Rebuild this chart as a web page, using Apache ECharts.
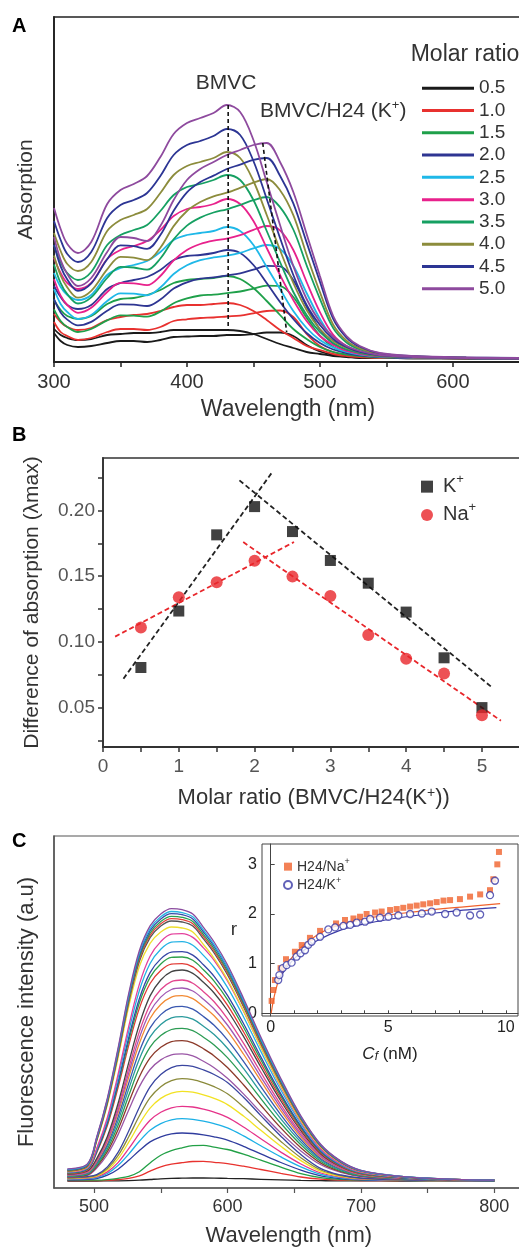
<!DOCTYPE html>
<html><head><meta charset="utf-8">
<script src="https://cdn.jsdelivr.net/npm/echarts/dist/echarts.min.js"></script>
<style>html,body{margin:0;padding:0;background:#fff}#c{width:519px;height:1248px}</style>
</head><body><div id="c"></div>
<script>
// ================= Panel A : absorption spectra =================
const A_WL = [300,305,310,318,328,340,350,360,370,380,390,400,410,420,430,440,450,460,470,480,490,500,510,520,530,545,570,610,650];
const RATIOS = ['0.5','1.0','1.5','2.0','2.5','3.0','3.5','4.0','4.5','5.0'];
const RATIO_COLORS = ['#1a1a1a','#e8312f','#1fa04a','#2e3592','#1fb8e8','#e8218c','#16a062','#8c8c3c','#2c3594','#8e4a9e'];
// BMVC alone (peak ~430 nm)
const BMVC_CURVES = [
 [33,27,24,22,23,27,28,29,29,30,32,32,32,32,32,31,28,23,18,14,10,8,6,5,4,4,3.6,3.5,3],
 [48,40,35,32,34,42,45,47,48,51,55,57,57,58,59,57,51,42,32,24,16,12,8,6,5,4,4,3.6,3.1],
 [62,52,46,43,46,58,63,64,67,72,79,82,83,84,86,83,74,61,47,33,23,15,10,7.5,6,4.6,4,3.7,3.2],
 [76,65,57,53,57,73,79,82,85,92,102,106,107,109,112,109,97,79,60,43,29,19,12.5,8.8,6.7,5,4.1,3.7,3.2],
 [89,75,67,62,67,87,94,97,101,110,122,127,129,131,135,131,117,95,73,51,34,22,14.5,10,7.3,5.3,4.3,3.8,3.3],
 [104,89,79,73,79,103,112,116,121,132,146,153,155,158,163,158,141,114,87,62,41,26,17,11,8,5.7,4.4,3.8,3.3],
 [117,100,89,82,90,117,127,132,137,151,167,175,178,182,187,182,162,131,100,70,47,30,19,12.5,9,6,4.6,3.9,3.4],
 [129,111,98,91,100,131,142,147,153,169,187,196,200,204,210,204,181,147,112,79,52,33,21,14,10,6.3,4.7,3.9,3.4],
 [141,122,108,100,110,144,157,162,169,186,207,217,221,226,233,227,201,163,124,87,57,37,23,15,10,6.7,4.9,4,3.5],
 [154,133,118,109,120,158,172,178,186,205,228,239,244,249,257,250,222,180,137,96,63,40,25,16,11,7,5,4,3.5]
];
// BMVC/H24 (K+) (peak ~457-475 nm)
const H24_CURVES = [
 [29,21,17,15,16,19,21,21,20,22,25,25.5,26,26,27,27,28,29.5,29.5,26,17,10.5,7,5.3,4.5,4,3.7,3.6,3.1],
 [40,30,26,22,24,30,33,33,32,35,41,42.7,44,44.5,45.5,46.4,48.7,51,51.5,45,28,16,10,7,5.4,4.4,4,3.7,3.2],
 [52.6,41,35,30,33,41.6,46.7,46.4,45.4,50.4,58.8,63.6,66.5,67.4,68.9,70.5,73.4,76.3,75.8,65,44.3,26.3,15,9.6,7.1,5.1,4.2,3.8,3.3],
 [62.8,49.6,42.4,36.6,40.1,51.3,57.7,57.3,56,62.5,73.4,79.6,83.3,84.6,86.5,88.7,92.4,96.1,95.6,81.8,55.5,32.5,18.2,11.3,8.1,5.5,4.4,3.9,3.4],
 [73,58,50,43,47,61,68.7,68.3,66.7,74.5,88,96.7,101.8,104.6,106.3,109.2,113.6,117,113,96.3,69,43.2,23.7,14.1,9.7,6.2,4.7,4.1,3.6],
 [82.7,66.3,57,49.2,54.2,70,79.2,78.7,76.8,86,101.7,112.1,118,121.4,123.4,126.8,132.1,136,131.6,112,80,49.9,27.1,15.9,10.7,6.6,4.9,4.2,3.7],
 [97.4,78.8,67.8,58.5,64.6,84,95.2,94.5,92.3,103.5,122.8,136.4,144.4,149.5,152.7,157,161.8,165,154.9,132.5,96.8,63.2,33.9,19.5,12.6,7.5,5.4,4.3,3.8],
 [106.6,86.5,74.6,64.3,71.1,92.6,105.1,104.4,101.9,114.3,135.9,151,160,165.7,169.3,174.1,179.4,183,171.8,146.9,107.2,69.9,37.3,21.3,13.6,8,5.6,4.4,3.9],
 [117.3,95.6,82.4,71.1,78.6,102.7,116.6,115.9,113.1,127,151.2,169.6,179.9,186.4,193,197.4,202.2,204,186.2,158.7,119.6,80.4,43.1,24.4,15.2,8.7,5.9,4.5,4],
 [125,102,88,76,84,110,125,124,121,136,162,182,193,200,207,212,217,219,200,170,128,86,46,26,16,9,6,4.5,4]
];
const BMVC_DASH = [[431,257],[431,32]];
const H24_DASH = [[457,219],[475,30]];
const A_X_TICKS = [300,350,400,450,500,550,600,650];
const A_X_LABELS = [300,400,500,600];

// ================= Panel B : difference of absorption =================
const B_RATIO = [0.5,1,1.5,2,2.5,3,3.5,4,4.5,5];
const B_K = [0.0805,0.1235,0.1815,0.203,0.184,0.162,0.1447,0.1227,0.0879,0.050];
const B_NA = [0.111,0.134,0.1454,0.1617,0.1497,0.135,0.1052,0.0871,0.076,0.0441];
const B_FIT_K_UP = [[0.27,0.072],[2.23,0.229]];
const B_FIT_K_DOWN = [[1.80,0.223],[5.12,0.066]];
const B_FIT_NA_UP = [[0.16,0.104],[2.52,0.176]];
const B_FIT_NA_DOWN = [[1.85,0.176],[5.25,0.040]];
const B_X_TICKS = [0,0.5,1,1.5,2,2.5,3,3.5,4,4.5,5,5.5];
const B_X_LABELS = [0,1,2,3,4,5];
const B_Y_TICKS = [0.025,0.05,0.075,0.1,0.125,0.15,0.175,0.2,0.225];
const B_Y_LABELS = [0.05,0.10,0.15,0.20];

// ================= Panel C : fluorescence spectra =================
const C_WL = [480,495,502,510,518,526,534,542,550,558,566,574,582,590,600,612,625,640,655,670,685,700,730,770,800];
const FL_COLORS = ['#222222','#e8322e','#22a046','#2f3c9e','#1cb0e6','#e5338a','#f2e223','#8a8a3a','#3a46a0','#9a56a6',
 '#8c3a2a','#2c9c54','#2a9a9c','#3a58b0','#f28a34','#a058b4','#e2468e','#444444','#e23a34','#2ea04a',
 '#3446a6','#22b2e4','#e4409c','#eede2e','#555555','#e4403a','#2aa050','#3a4aaa','#28b4e2','#8a4a9e'];
const FL_CURVES = [
 [7,7,7,7.1,7.2,7.4,7.8,8.5,9.2,9.6,9.8,10,10,9.9,9.6,9.3,8.7,8.1,7.6,7.3,7.1,7.1,7,7,7],
 [7.4,7.4,7.4,7.7,8.5,9.6,12.1,16.9,21.2,23.8,25.3,26.5,26.7,25.7,24.4,21.8,18.5,14.6,11,8.9,7.9,7.5,7.2,7.1,7],
 [7.8,7.8,7.8,8.4,9.7,11.7,16.3,25.1,32.8,37.4,40.2,42.3,42.7,40.9,38.5,33.9,27.8,20.8,14.4,10.4,8.6,7.9,7.4,7.1,7.1],
 [8.2,8.7,9.5,12.8,18.8,27.7,37.5,46.1,51.2,54.1,55,54.5,53.1,51.2,47.9,41.7,34.1,25.5,17.9,12.1,9.4,8.2,7.5,7.2,7.1],
 [8.7,9.3,10.4,14.5,22.4,33.9,46.7,57.7,64.4,68.1,69.4,68.7,66.9,64.4,60.1,52.1,42.2,31.1,21.2,13.7,10.2,8.6,7.7,7.3,7.1],
 [9.1,9.8,11.1,16.1,25.4,39.3,54.6,67.8,75.8,80.2,81.7,81,78.8,75.8,70.6,61,49.2,35.9,24,15,10.8,8.9,7.8,7.3,7.2],
 [9.5,10.4,11.9,17.9,29.1,45.8,64.1,79.9,89.6,94.9,96.7,95.8,93.2,89.6,83.4,71.9,57.7,41.7,27.4,16.6,11.6,9.3,8,7.4,7.2],
 [9.9,10.9,12.7,19.4,32.3,51.2,72.2,90.3,101.3,107.4,109.4,108.4,105.4,101.3,94.2,81,64.8,46.6,30.3,18,12.3,9.6,8.1,7.5,7.2],
 [10.3,11.5,13.4,21.1,35.6,57,80.8,101.2,113.5,120.4,122.7,121.6,118.1,113.5,105.5,90.7,72.4,51.8,33.4,19.4,13,10,8.2,7.5,7.2],
 [10.7,12.6,20,33.5,53.4,78.1,101.4,118.5,128.1,133.1,134.1,132.1,126.7,120.3,109.7,94.1,75.6,55.1,37.1,23.2,15.5,11.4,8.9,7.7,7.4],
 [11.1,13.2,21.4,36.3,58.3,85.5,111.3,130.1,140.7,146.3,147.4,145.2,139.2,132.1,120.5,103.2,82.8,60.1,40.3,24.9,16.3,11.8,9.1,7.8,7.4],
 [11.6,13.8,22.7,38.9,62.8,92.4,120.4,140.9,152.4,158.5,159.7,157.3,150.8,143.1,130.4,111.6,89.4,64.7,43.2,26.5,17.2,12.3,9.3,7.8,7.5],
 [12,14.4,24,41.4,67.1,99,129.1,151.1,163.6,170.1,171.4,168.8,161.8,153.5,139.8,119.6,95.7,69.2,46,28,18,12.7,9.5,7.9,7.5],
 [12.4,15,25.1,43.6,71,104.7,136.7,160.1,173.4,180.3,181.7,178.9,171.5,162.7,148.2,126.7,101.3,73.2,48.5,29.3,18.8,13.1,9.6,8,7.5],
 [12.8,15.5,26.3,45.9,74.9,110.8,144.7,169.5,183.5,190.9,192.3,189.4,181.5,172.2,156.8,134,107.1,77.2,51,30.7,19.5,13.5,9.8,8,7.55],
 [13.2,16.1,27.3,47.7,77.8,115.1,150.4,176.3,190.9,198.5,200,197,188.8,179,163,139.3,111.2,80.1,52.9,31.8,20,13.8,9.9,8.1,7.6],
 [13.6,16.6,28.3,49.5,80.8,119.7,156.4,183.3,198.5,206.4,208,204.8,196.3,186.2,169.4,144.8,115.6,83.2,54.8,32.9,20.6,14.1,10.1,8.1,7.6],
 [14,17.1,29.4,51.6,84.5,125.3,163.8,192.1,208,216.3,218,214.6,205.7,195,177.5,151.6,121,87,57.3,34.1,21.3,14.4,10.2,8.2,7.6],
 [14.5,18.1,35.2,62.4,100.4,142.6,179.9,204.5,217.5,223.9,224.4,221.1,211.9,200.9,182.9,156.2,124.6,89.6,58.8,35,21.8,14.7,10.3,8.3,7.6],
 [14.9,18.7,36.2,64.3,103.4,146.9,185.3,210.6,224,230.6,231,227.7,218.2,206.9,188.3,160.8,128.2,92.1,60.5,36,22.3,15,10.5,8.3,7.7],
 [15.3,19.2,37.1,65.7,105.7,150.3,189.5,215.4,229.1,235.9,236.3,232.9,223.2,211.6,192.6,164.5,131.1,94.2,61.8,36.7,22.7,15.3,10.5,8.3,7.7],
 [15.7,19.7,38.5,68.4,110.1,156.5,197.5,224.5,238.7,245.8,246.3,242.7,232.6,220.5,200.6,171.3,136.6,98,64.2,38,23.4,15.6,10.7,8.3,7.7],
 [16.1,20.3,39.6,70.5,113.6,161.6,203.9,231.8,246.4,253.8,254.3,250.6,240.1,227.6,207.1,176.8,140.9,101,66.2,39,24,15.9,10.8,8.5,7.7],
 [16.5,21.3,46.6,83.2,130,181.3,221.7,244.7,256,261,260,256,243.5,229.7,208.5,177.2,140.9,102.1,67.3,40.7,25.2,16.7,11.2,8.5,7.75],
 [16.9,21.8,47.7,85,133,185.5,226.8,250.3,261.9,267,266,261.9,249.1,235,213.2,181.2,144.1,104.4,68.9,41.5,25.6,16.9,11.3,8.5,7.8],
 [17.3,22.2,48.3,86.1,134.3,187.3,228.9,252.7,264.2,269.4,268.4,264.2,251.3,237.1,215.2,182.9,145.4,105.4,69.5,41.9,25.9,17.1,11.4,8.5,7.8],
 [17.8,22.7,49,86.9,135.6,189,230.9,254.8,266.5,271.7,270.7,266.5,253.5,239.2,217,184.5,146.7,106.3,70.2,42.2,26.1,17.2,11.5,8.6,7.8],
 [18.2,23.2,49.7,88,137,190.9,233.2,257.3,269.1,274.4,273.3,269.1,256,241.5,219.2,186.3,148.2,107.5,70.8,42.7,26.4,17.4,11.5,8.6,7.8],
 [18.6,23.6,50.2,88.9,138.3,192.5,235.1,259.4,271.2,276.5,275.4,271.2,258,243.4,220.9,187.8,149.3,108.3,71.5,43.1,26.6,17.5,11.6,8.7,7.8],
 [19,24.1,51,89.9,139.8,194.6,237.5,262.1,274,279.4,278.3,274,260.7,246,223.2,189.8,151,109.5,72.2,43.5,26.9,17.7,11.7,8.7,7.8]
];
const C_X_TICKS = [500,550,600,650,700,750,800];
const C_X_LABELS = [500,600,700,800];

// Inset: r vs Cf
const INSET_NA_X = [0.04,0.11,0.18,0.42,0.65,1.03,1.32,1.67,2.1,2.78,3.16,3.52,3.8,4.08,4.44,4.72,5.08,5.36,5.64,5.93,6.21,6.49,6.78,7.06,7.35,7.63,8.05,8.48,8.91,9.33,9.47,9.64,9.71];
const INSET_NA_Y = [0.25,0.47,0.67,0.91,1.09,1.24,1.375,1.52,1.66,1.81,1.88,1.91,1.945,2.0,2.03,2.05,2.08,2.1,2.125,2.15,2.17,2.195,2.215,2.24,2.27,2.28,2.3,2.35,2.395,2.48,2.70,3.0,3.25];
const INSET_K_X = [0.32,0.37,0.51,0.68,0.89,1.1,1.27,1.46,1.6,1.74,2.1,2.45,2.74,3.09,3.38,3.66,4.01,4.23,4.65,5.01,5.43,5.93,6.43,6.85,7.42,7.91,8.48,8.91,9.33,9.54];
const INSET_K_Y = [0.67,0.77,0.91,0.97,1.02,1.14,1.21,1.27,1.38,1.44,1.54,1.69,1.73,1.76,1.78,1.825,1.845,1.9,1.925,1.945,1.97,2.0,2.01,2.05,2.0,2.03,1.97,1.99,2.38,2.67];
const INSET_FIT_NA = [[0.02,0],[0.18,0.4],[0.4,0.74],[0.82,1.07],[1.25,1.31],[1.96,1.57],[2.67,1.74],[4.09,1.91],[5.5,2.01],[6.92,2.09],[8.34,2.15],[9.76,2.21]];
const INSET_FIT_K = [[0.3,0.62],[0.5,0.8],[1,1.1],[1.5,1.3],[2,1.47],[3,1.68],[4,1.8],[5,1.89],[6,1.96],[7,2.02],[8,2.07],[9,2.11],[9.6,2.13]];
const INSET_X_TICKS = [0,1,2,3,4,5,6,7,8,9,10];
const INSET_X_LABELS = [0,5,10];
const INSET_Y_TICKS = [0,1,2,3];

// ================= Build chart =================
const FONT = 'Liberation Sans, Arial, Helvetica, sans-serif';
const chart = echarts.init(document.getElementById('c'), null, {renderer: 'canvas'});
const pair = (xs, ys) => xs.map((x, i) => [x, ys[i]]);
const series = [];

RATIOS.forEach((name, i) => {
  [BMVC_CURVES[i], H24_CURVES[i]].forEach(vals => {
    series.push({type: 'line', name, xAxisIndex: 0, yAxisIndex: 0, data: pair(A_WL, vals),
      smooth: 0.35, symbol: 'none', lineStyle: {color: RATIO_COLORS[i], width: 1.8},
      itemStyle: {color: RATIO_COLORS[i]}, z: 2});
  });
});
[BMVC_DASH, H24_DASH].forEach((d, k) => series.push({type: 'line', name: 'dash' + k, xAxisIndex: 0, yAxisIndex: 0,
  data: d, symbol: 'none', lineStyle: {color: '#111', width: 1.6, type: [4, 3]}, z: 5}));

[[B_FIT_K_UP, '#222'], [B_FIT_K_DOWN, '#222'], [B_FIT_NA_UP, '#e8262b'], [B_FIT_NA_DOWN, '#e8262b']].forEach((f, k) =>
  series.push({type: 'line', name: 'fit' + k, xAxisIndex: 1, yAxisIndex: 1, data: f[0], symbol: 'none',
    lineStyle: {color: f[1], width: 1.8, type: [5, 3]}, z: 2}));
series.push({type: 'scatter', name: 'K+', xAxisIndex: 1, yAxisIndex: 1, data: pair(B_RATIO, B_K),
  symbol: 'rect', symbolSize: 11, itemStyle: {color: '#111'}, z: 3});
series.push({type: 'scatter', name: 'Na+', xAxisIndex: 1, yAxisIndex: 1, data: pair(B_RATIO, B_NA),
  symbol: 'circle', symbolSize: 12, itemStyle: {color: '#e8262b'}, z: 3});

FL_CURVES.forEach((vals, i) => series.push({type: 'line', name: 'F' + i, xAxisIndex: 2, yAxisIndex: 2,
  data: pair(C_WL, vals), smooth: 0.35, symbol: 'none', lineStyle: {color: FL_COLORS[i], width: 1.3}, z: 2}));

series.push({type: 'line', name: 'fitNa', xAxisIndex: 3, yAxisIndex: 3, data: INSET_FIT_NA, smooth: 0.4,
  symbol: 'none', lineStyle: {color: '#f0622c', width: 1.2}, z: 3});
series.push({type: 'line', name: 'fitK', xAxisIndex: 3, yAxisIndex: 3, data: INSET_FIT_K, smooth: 0.4,
  symbol: 'none', lineStyle: {color: '#3a3aa6', width: 1.2}, z: 3});
series.push({type: 'scatter', name: 'H24/Na+', xAxisIndex: 3, yAxisIndex: 3, data: pair(INSET_NA_X, INSET_NA_Y),
  symbol: 'rect', symbolSize: 6, itemStyle: {color: '#f0622c'}, z: 4});
series.push({type: 'scatter', name: 'H24/K+', xAxisIndex: 3, yAxisIndex: 3, data: pair(INSET_K_X, INSET_K_Y),
  symbol: 'circle', symbolSize: 7, itemStyle: {color: '#fff', borderColor: '#3a3aa6', borderWidth: 1.3}, z: 4});

const axLine = (c, w) => ({show: true, lineStyle: {color: c, width: w}});
const supRich = (fs, color, lh) => ({
  n: {fontSize: fs, color, fontFamily: FONT, lineHeight: lh},
  s: {fontSize: Math.round(fs * 0.62), color, fontFamily: FONT, verticalAlign: 'top', lineHeight: Math.round(fs * 0.75)}
});
const gridBase = {show: true, containLabel: false, outerBoundsMode: 'none'};

const option = {
  animation: false,
  backgroundColor: '#fff',
  textStyle: {fontFamily: FONT},
  grid: [
    Object.assign({left: 54, top: 17, width: 468, height: 345, borderColor: '#222', borderWidth: 1.5}, gridBase),
    Object.assign({left: 103, top: 458, width: 421.4, height: 289, borderColor: '#333', borderWidth: 1.5}, gridBase),
    Object.assign({left: 54, top: 836, width: 469.7, height: 352, borderColor: '#555', borderWidth: 1.2}, gridBase),
    Object.assign({left: 262, top: 844, width: 256, height: 172, borderColor: '#444', borderWidth: 1, backgroundColor: '#fff'}, gridBase)
  ],
  xAxis: [
    {gridIndex: 0, type: 'value', min: 300, max: 652, axisLine: axLine('#222', 1.8),
      axisTick: {show: true, length: 5, customValues: A_X_TICKS, lineStyle: {color: '#222', width: 1.5}},
      axisLabel: {customValues: A_X_LABELS, fontSize: 20, color: '#333', margin: 10, fontFamily: FONT},
      splitLine: {show: false},
      name: 'Wavelength (nm)', nameLocation: 'middle', nameGap: 36,
      nameTextStyle: {fontSize: 23, color: '#333', fontFamily: FONT}},
    {gridIndex: 1, type: 'value', min: 0, max: 5.56, axisLine: axLine('#333', 1.8),
      axisTick: {show: true, length: 5, customValues: B_X_TICKS, lineStyle: {color: '#333', width: 1.5}},
      axisLabel: {customValues: B_X_LABELS, fontSize: 19, color: '#555', margin: 10, fontFamily: FONT},
      splitLine: {show: false},
      name: '{n|Molar ratio (BMVC/H24(K}{s|+}{n|))}', nameLocation: 'middle', nameGap: 39,
      nameTextStyle: {fontSize: 22, color: '#333', rich: supRich(22, '#333', 24)}},
    {gridIndex: 2, type: 'value', min: 470, max: 822, axisLine: axLine('#555', 1.5),
      axisTick: {show: true, length: 5, customValues: C_X_TICKS, lineStyle: {color: '#555', width: 1.2}},
      axisLabel: {customValues: C_X_LABELS, fontSize: 18, color: '#333', margin: 10, fontFamily: FONT},
      splitLine: {show: false},
      name: 'Wavelength (nm)', nameLocation: 'middle', nameGap: 37,
      nameTextStyle: {fontSize: 22, color: '#333', fontFamily: FONT}},
    {gridIndex: 3, type: 'value', min: -0.37, max: 10.52, axisLine: axLine('#444', 1),
      axisTick: {show: true, inside: true, length: 3, customValues: INSET_X_TICKS, lineStyle: {color: '#444', width: 1}},
      axisLabel: {customValues: INSET_X_LABELS, fontSize: 16, color: '#222', margin: 4, fontFamily: FONT},
      splitLine: {show: false},
      name: '{i|C}{sub|f}{n| (nM)}', nameLocation: 'middle', nameGap: 30,
      nameTextStyle: {fontSize: 17, color: '#222', rich: {
        i: {fontSize: 17, fontStyle: 'italic', color: '#222', fontFamily: FONT},
        sub: {fontSize: 12, fontStyle: 'italic', color: '#222', fontFamily: FONT, verticalAlign: 'bottom', lineHeight: 14},
        n: {fontSize: 17, color: '#222', fontFamily: FONT}}}}
  ],
  yAxis: [
    {gridIndex: 0, type: 'value', min: 0, max: 345, axisLine: axLine('#222', 1.8), axisTick: {show: false},
      axisLabel: {show: false}, splitLine: {show: false},
      name: 'Absorption', nameLocation: 'middle', nameGap: 17,
      nameTextStyle: {fontSize: 21, color: '#333', fontFamily: FONT}},
    {gridIndex: 1, type: 'value', min: 0.02, max: 0.24, axisLine: axLine('#333', 1.8),
      axisTick: {show: true, length: 5, customValues: B_Y_TICKS, lineStyle: {color: '#333', width: 1.5}},
      axisLabel: {customValues: B_Y_LABELS, formatter: v => Number(v).toFixed(2), fontSize: 19, color: '#555', margin: 8, fontFamily: FONT},
      splitLine: {show: false},
      name: 'Difference of absorption (\u03bbmax)', nameLocation: 'middle', nameGap: 60,
      nameTextStyle: {fontSize: 21, color: '#333', fontFamily: FONT}},
    {gridIndex: 2, type: 'value', min: 0, max: 352, axisLine: axLine('#555', 1.5), axisTick: {show: false},
      axisLabel: {show: false}, splitLine: {show: false},
      name: 'Fluorescence intensity (a.u)', nameLocation: 'middle', nameGap: 16,
      nameTextStyle: {fontSize: 22, color: '#333', fontFamily: FONT}},
    {gridIndex: 3, type: 'value', min: -0.054, max: 3.41, axisLine: axLine('#444', 1),
      axisTick: {show: true, inside: true, length: 4, customValues: INSET_Y_TICKS, lineStyle: {color: '#444', width: 1}},
      axisLabel: {customValues: INSET_Y_TICKS, fontSize: 16, color: '#222', margin: 5, fontFamily: FONT},
      splitLine: {show: false},
      name: 'r', nameLocation: 'middle', nameGap: 25, nameRotate: 0,
      nameTextStyle: {fontSize: 19, color: '#333', fontFamily: FONT}}
  ],
  legend: [
    {data: RATIOS, orient: 'vertical', left: 422, top: 77, padding: 0, itemGap: 0, itemWidth: 52, itemHeight: 3,
      icon: 'rect', selectedMode: false,
      textStyle: {fontSize: 19, lineHeight: 22.3, color: '#333', fontFamily: FONT}},
    {data: ['K+', 'Na+'], orient: 'vertical', left: 421, top: 472.5, padding: 0, itemGap: 0, itemWidth: 12, itemHeight: 12,
      selectedMode: false,
      formatter: n => n === 'K+' ? '{n|K}{s|+}' : '{n|Na}{s|+}',
      textStyle: {fontSize: 20, lineHeight: 28.3, color: '#333', rich: {
        n: {fontSize: 20, lineHeight: 28.3, color: '#333', fontFamily: FONT, padding: [0, 0, 0, 5]},
        s: {fontSize: 13, lineHeight: 18, color: '#333', fontFamily: FONT, verticalAlign: 'top'}}}},
    {data: ['H24/Na+', 'H24/K+'], orient: 'vertical', left: 283, top: 857.5, padding: 0, itemGap: 0, itemWidth: 8, itemHeight: 8,
      selectedMode: false,
      formatter: n => n === 'H24/Na+' ? '{n|H24/Na}{s|+}' : '{n|H24/K}{s|+}',
      textStyle: {fontSize: 14, lineHeight: 18.3, color: '#333', rich: {
        n: {fontSize: 14, lineHeight: 18.3, color: '#333', fontFamily: FONT},
        s: {fontSize: 9, lineHeight: 12, color: '#333', fontFamily: FONT, verticalAlign: 'top'}}}}
  ],
  graphic: [
    {type: 'text', left: 12, top: 16, style: {text: 'A', font: 'bold 20px ' + FONT, fill: '#000'}},
    {type: 'text', left: 12, top: 425, style: {text: 'B', font: 'bold 20px ' + FONT, fill: '#000'}},
    {type: 'text', left: 12, top: 831, style: {text: 'C', font: 'bold 20px ' + FONT, fill: '#000'}},
    {type: 'text', style: {x: 226, y: 83, text: 'BMVC', font: '21px ' + FONT, fill: '#333', align: 'center', verticalAlign: 'middle'}},
    {type: 'text', style: {x: 260, y: 111, text: '{n|BMVC/H24 (K}{s|+}{n|)}', fill: '#333', align: 'left', verticalAlign: 'middle',
      rich: supRich(21, '#333', 24)}},
    {type: 'text', style: {x: 410.7, y: 55, text: 'Molar ratio', font: '23px ' + FONT, fill: '#333', align: 'left', verticalAlign: 'middle'}}
  ],
  series
};
chart.setOption(option);
</script>
</body></html>
